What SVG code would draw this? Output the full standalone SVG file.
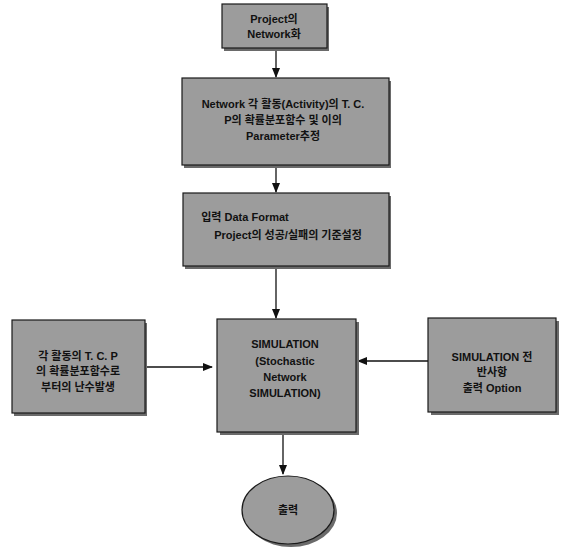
<svg xmlns="http://www.w3.org/2000/svg" width="564" height="552" viewBox="0 0 564 552">
<style>
.box{fill:#9c9c9c;stroke:#1a1a1a;stroke-width:1.2}
.sh{fill:#6a6a6a}
.t{font-family:"Liberation Sans","Noto Sans CJK KR",sans-serif;font-size:11px;font-weight:bold;fill:#111;text-anchor:middle}
.c{stroke:#111;stroke-width:1.3;fill:none}
</style>
<defs>
<marker id="ah" markerWidth="10" markerHeight="10" refX="9" refY="5" orient="auto" markerUnits="userSpaceOnUse">
<path d="M0,1 L10,5 L0,9 Z" fill="#111"/>
</marker>
</defs>
<rect width="564" height="552" fill="#fff"/>
<g id="connectors">
<line class="c" x1="276" y1="50" x2="276" y2="77" marker-end="url(#ah)"/>
<line class="c" x1="276" y1="167" x2="276" y2="192" marker-end="url(#ah)"/>
<line class="c" x1="276" y1="268" x2="276" y2="318" marker-end="url(#ah)"/>
<line class="c" x1="146" y1="367" x2="212" y2="367" marker-end="url(#ah)"/>
<line class="c" x1="428" y1="361" x2="358" y2="361" marker-end="url(#ah)"/>
<line class="c" x1="283" y1="434" x2="283" y2="474" marker-end="url(#ah)"/>
</g>
<g id="n1">
<rect class="sh" x="224" y="7" width="105" height="44"/>
<rect class="box" x="222" y="4" width="105" height="44"/>
<text class="t" x="274" y="23">Project의</text>
<text class="t" x="274" y="38">Network화</text>
</g>
<g id="n2">
<rect class="sh" x="184" y="81" width="207" height="87"/>
<rect class="box" x="182" y="78" width="207" height="87"/>
<text class="t" x="283" y="108">Network 각 활동(Activity)의 T. C.</text>
<text class="t" x="283" y="124">P의 확률분포함수 및 이의</text>
<text class="t" x="283" y="140">Parameter추정</text>
</g>
<g id="n3">
<rect class="sh" x="185" y="196" width="206" height="73"/>
<rect class="box" x="183" y="193" width="206" height="73"/>
<text class="t" x="245" y="221">입력 Data Format</text>
<text class="t" x="288" y="239">Project의 성공/실패의 기준설정</text>
</g>
<g id="n4">
<rect class="sh" x="14" y="323" width="133" height="93"/>
<rect class="box" x="12" y="320" width="133" height="93"/>
<text class="t" x="78" y="360">각 활동의 T. C. P</text>
<text class="t" x="78" y="375">의 확률분포함수로</text>
<text class="t" x="78" y="391">부터의 난수발생</text>
</g>
<g id="n5">
<rect class="sh" x="220" y="322" width="139" height="113"/>
<rect class="box" x="217" y="319" width="139" height="113"/>
<text class="t" x="285" y="348">SIMULATION</text>
<text class="t" x="285" y="365">(Stochastic</text>
<text class="t" x="285" y="381">Network</text>
<text class="t" x="285" y="397">SIMULATION)</text>
</g>
<g id="n6">
<rect class="sh" x="431" y="321" width="128" height="94"/>
<rect class="box" x="428" y="318" width="128" height="94"/>
<text class="t" x="492" y="361">SIMULATION 전</text>
<text class="t" x="492" y="376">반사항</text>
<text class="t" x="492" y="392">출력 Option</text>
</g>
<g id="n7">
<ellipse class="sh" cx="291" cy="513" rx="46" ry="34"/>
<ellipse class="box" cx="288" cy="510" rx="46" ry="34"/>
<text class="t" x="288" y="514">출력</text>
</g>
</svg>
